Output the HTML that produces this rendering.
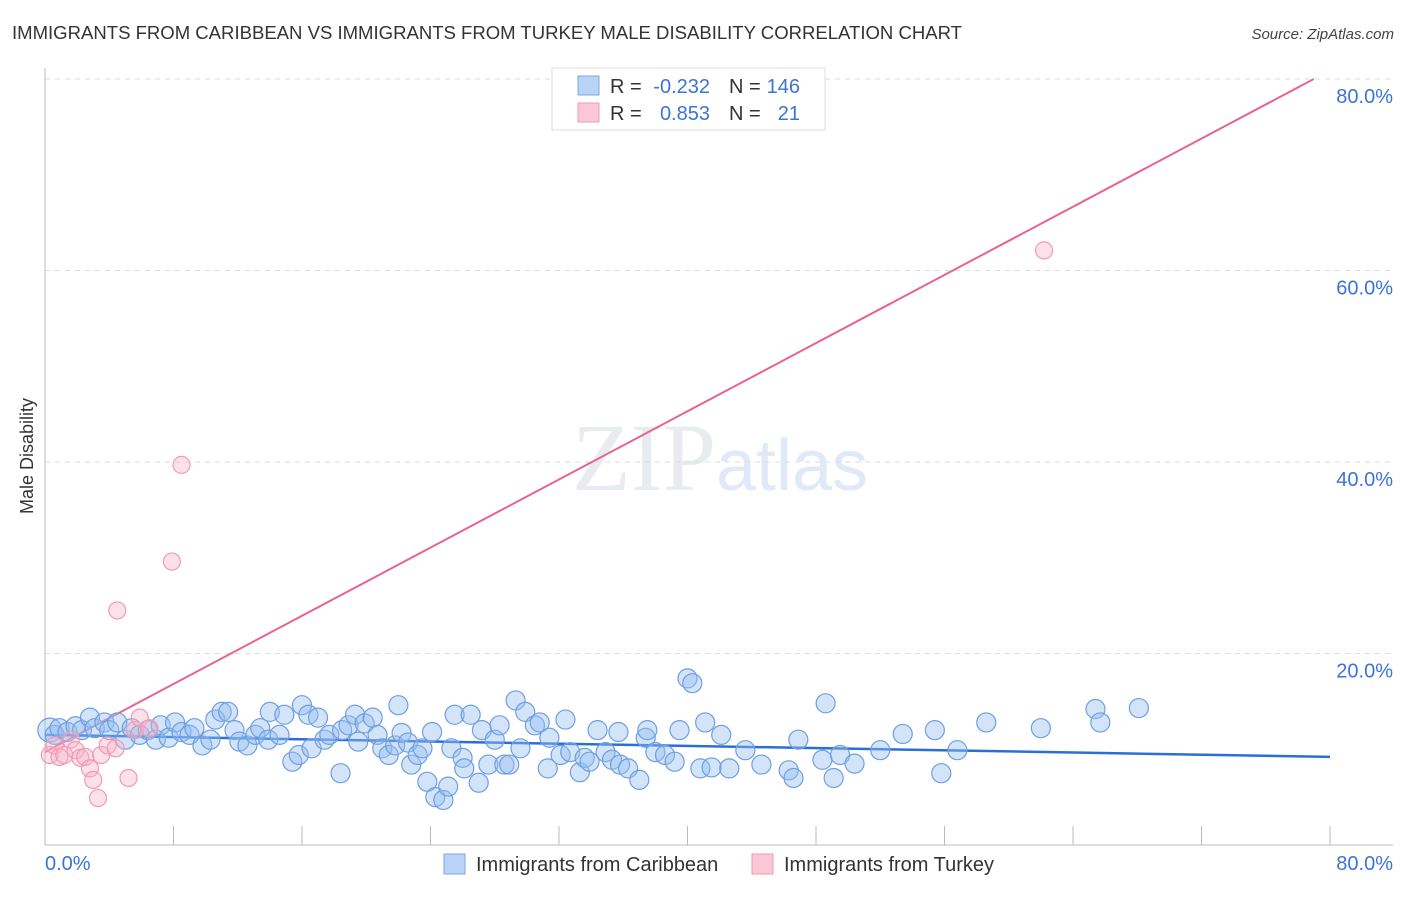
<!DOCTYPE html>
<html><head><meta charset="utf-8"><style>
body{margin:0;background:#fff;font-family:"Liberation Sans",sans-serif;}
</style></head><body>
<svg width="1406" height="892" xmlns="http://www.w3.org/2000/svg" id="chart">
<text x="12" y="39" font-size="18" fill="#333" textLength="950" lengthAdjust="spacingAndGlyphs">IMMIGRANTS FROM CARIBBEAN VS IMMIGRANTS FROM TURKEY MALE DISABILITY CORRELATION CHART</text>
<text x="1394" y="39" font-size="15" fill="#444" text-anchor="end" font-style="italic">Source: ZipAtlas.com</text>
<text transform="translate(33,456) rotate(-90)" font-size="18" fill="#333" text-anchor="middle">Male Disability</text>
<text x="720" y="490" font-size="96" text-anchor="middle" fill="#e9ecef" font-family="Liberation Serif">ZIP<tspan fill="#dfe9f7" font-family="Liberation Sans" font-size="72">atlas</tspan></text>
<g id="grid"></g><g id="axes"></g><g id="lines"></g><g id="pts"></g>
<g>
<rect x="552" y="68" width="273" height="62" fill="#fff" stroke="#ddd"/>
<rect x="578" y="76" width="21" height="19" fill="#b8d3f5" stroke="#7aa7e6"/>
<rect x="578" y="103" width="21" height="19" fill="#fac7d6" stroke="#f09ab5"/>
<text x="610" y="93" font-size="20" fill="#333">R =</text>
<text x="710" y="93" font-size="20" fill="#3b74d6" text-anchor="end">-0.232</text>
<text x="729" y="93" font-size="20" fill="#333">N =</text>
<text x="800" y="93" font-size="20" fill="#3b74d6" text-anchor="end">146</text>
<text x="610" y="120" font-size="20" fill="#333">R =</text>
<text x="710" y="120" font-size="20" fill="#3b74d6" text-anchor="end">0.853</text>
<text x="729" y="120" font-size="20" fill="#333">N =</text>
<text x="800" y="120" font-size="20" fill="#3b74d6" text-anchor="end">21</text>
</g>
<g>
<rect x="444" y="854" width="21" height="20" fill="#b8d3f5" stroke="#7aa7e6"/>
<text x="476" y="871" font-size="20" fill="#333">Immigrants from Caribbean</text>
<rect x="752" y="854" width="21" height="20" fill="#fac7d6" stroke="#f09ab5"/>
<text x="784" y="871" font-size="20" fill="#333">Immigrants from Turkey</text>
</g>
</svg>
<script>
const blueX=[0.3,0.6,0.9,1.4,1.9,2.3,2.8,3.1,3.7,4.0,4.5,5.0,5.4,5.9,6.4,6.9,7.2,7.7,8.1,8.5,9.0,9.3,9.8,10.3,10.6,11.0,11.4,11.8,12.1,12.6,13.1,13.4,13.9,14.0,14.6,14.9,15.4,15.8,16.0,16.4,16.6,17.0,17.4,17.7,18.4,18.5,18.9,19.3,19.5,19.9,20.4,20.7,21.0,21.4,21.8,22.0,22.2,22.6,22.8,23.2,23.5,23.8,24.1,24.3,24.8,25.1,25.3,25.5,26.0,26.1,26.5,27.0,27.2,27.6,28.0,28.3,28.6,28.9,29.3,29.6,29.9,30.5,30.8,31.3,31.4,32.1,32.4,32.7,33.3,33.6,33.9,34.4,34.9,35.3,35.7,35.8,36.3,37.0,37.4,37.5,38.0,38.6,39.2,39.5,40.0,40.3,40.8,41.1,41.5,42.1,42.6,43.6,44.6,46.3,46.6,46.9,48.4,48.6,49.1,49.5,50.4,52.0,53.4,55.4,55.8,56.8,58.6,62.0,65.4,65.7,68.1];
const blueY=[12.0,11.5,12.2,11.8,12.4,12.0,13.3,12.2,12.8,12.0,12.8,11.0,12.2,11.5,12.0,11.0,12.5,11.2,12.8,11.8,11.5,12.2,10.4,11.0,13.1,13.9,13.9,12.0,10.8,10.4,11.5,12.2,11.0,13.9,11.5,13.6,8.7,9.4,14.6,13.6,10.1,13.3,11.0,11.5,7.5,12.0,12.5,13.6,10.8,12.7,13.3,11.5,10.1,9.4,10.4,14.6,11.7,10.7,8.4,9.4,10.1,6.6,11.8,5.0,4.7,6.1,10.1,13.6,9.1,8.0,13.6,6.5,12.0,8.4,11.0,12.5,8.4,8.4,15.1,10.1,13.9,12.5,12.8,8.0,11.2,9.4,13.1,9.7,7.6,9.1,8.7,12.0,9.7,8.9,11.8,8.4,8.0,6.8,11.2,12.0,9.7,9.4,8.7,12.0,17.4,16.9,8.0,12.8,8.1,11.5,8.0,9.9,8.4,7.8,7.0,11.0,8.9,14.8,7.0,9.4,8.5,9.9,11.6,12.0,7.5,9.9,12.8,12.2,14.2,12.8,14.3];
const pinkX=[0.3,0.6,0.9,1.2,1.6,1.9,2.2,2.5,2.8,3.0,3.3,3.5,3.9,4.4,4.5,5.2,5.6,5.9,6.5,7.9,8.5,62.2];
const pinkY=[9.4,10.4,9.2,9.4,11.0,9.9,9.1,9.2,8.0,6.8,4.9,9.4,10.4,10.1,24.5,7.0,12.0,13.3,12.2,29.6,39.7,62.1];
const yTicks=[20,40,60,80];
const yTickLabels=["20.0%","40.0%","60.0%","80.0%"];
const xTicks=[0,8,16,24,32,40,48,56,64,72,80];
const blueTrend=[11.5,9.2];   // y at x=0 and x=80
const pinkTrend=[9.7,0.89];   // intercept, slope
const NS="http://www.w3.org/2000/svg";
const sx=v=>45+v/80*1285, sy=v=>845-v/20*191.5;
function mk(p,tag,a){const e=document.createElementNS(NS,tag);for(const k in a)e.setAttribute(k,a[k]);document.getElementById(p).appendChild(e);return e;}
yTicks.forEach((t,i)=>{
 let l=mk('grid','line',{x1:45,x2:1393,y1:sy(t),y2:sy(t),stroke:'#ddd','stroke-dasharray':'5,5'});
 
 
 let tx=mk('grid','text',{x:1393,y:sy(t)+24,'font-size':20,fill:'#3b74d6','text-anchor':'end'});
 tx.textContent=yTickLabels[i];
 
 
});
let ax=mk('axes','path',{d:'M45,68 V845 H1393',fill:'none',stroke:'#bbb'});


xTicks.forEach(t=>{
 let l=mk('axes','line',{x1:sx(t),x2:sx(t),y1:826,y2:845,stroke:'#bbb'});
 
 
});
[[0,"0.0%",'start',45],[80,"80.0%",'end',1393]].forEach(a=>{
 let tx=mk('axes','text',{x:a[3],y:870,'font-size':20,fill:'#3b74d6','text-anchor':a[2]});
 tx.textContent=a[1];
 
 
});
blueX.forEach((x,i)=>{
 let c=mk('pts','circle',{cx:sx(x),cy:sy(blueY[i]),r:i==0?12:9.5,fill:'rgba(150,190,240,0.42)',stroke:'#6d9fe3','stroke-width':1.2});
 
 
});
pinkX.forEach((x,i)=>{
 let c=mk('pts','circle',{cx:sx(x),cy:sy(pinkY[i]),r:8.5,fill:'rgba(248,180,200,0.4)',stroke:'#f09ab5','stroke-width':1.2});
 
 
});
let bl=mk('lines','line',{x1:sx(0),y1:sy(blueTrend[0]),x2:sx(80),y2:sy(blueTrend[1]),stroke:'#2b6fd6','stroke-width':2.5});


const pxEnd=(80-pinkTrend[0])/pinkTrend[1];
let pl=mk('lines','line',{x1:sx(0),y1:sy(pinkTrend[0]),x2:sx(pxEnd),y2:sy(80),stroke:'#e8648f','stroke-width':2});


</script>
</body></html>
